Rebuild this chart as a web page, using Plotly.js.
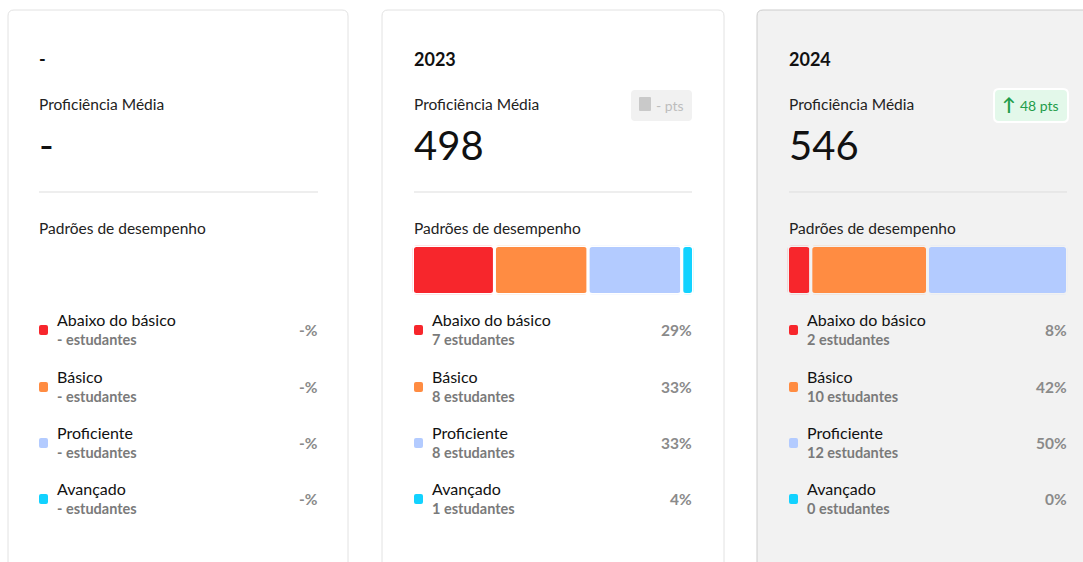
<!DOCTYPE html>
<html>
<head>
<meta charset="utf-8">
<script src="https://cdn.plot.ly/plotly-3.0.1.min.js"></script>
<style>
html,body{margin:0;padding:0;background:#fff;}
#chart{width:1083px;height:562px;}
</style>
</head>
<body>
<div id="chart"></div>
<script>
// ---- data ----
const years = ['-', '2023', '2024'];
const proficiency = ['-', '498', '546'];
const deltaLabels = [null, '- pts', '48 pts'];
const levels = ['Abaixo do básico', 'Básico', 'Proficiente', 'Avançado'];
const students2023 = [7, 8, 8, 1];
const students2024 = [2, 10, 12, 0];
const pct2023 = [29, 33, 33, 4];
const pct2024 = [8, 42, 50, 0];

// ---- styles ----
const levelColors = ['#f7262c', '#ff8c42', '#b3cbff', '#12d2ff'];
const W = 1083, H = 562;
const X = p => p / W;
const Y = p => 1 - p / H;
const FONT = 'Lato, "Open Sans", sans-serif';

const cards = [
  {x0: 8, x1: 348, fill: '#ffffff', line: '#e2e2e2', cx: 39, cr: 318},
  {x0: 382, x1: 724, fill: '#ffffff', line: '#e2e2e2', cx: 414, cr: 692},
  {x0: 757, x1: 1100, fill: '#f2f2f2', line: '#cccccc', cx: 789, cr: 1067}
];

function roundRect(x0, y0, x1, y1, r) {
  const rx = r / W, ry = r / H;
  const a = X(x0), b = X(x1), t = Y(y0), u = Y(y1);
  return `M${a + rx},${t} L${b - rx},${t} Q${b},${t} ${b},${t - ry} L${b},${u + ry} Q${b},${u} ${b - rx},${u} L${a + rx},${u} Q${a},${u} ${a},${u + ry} L${a},${t - ry} Q${a},${t} ${a + rx},${t} Z`;
}

const shapes = [];
const annotations = [];
// annotations carry a little inner padding; compensate so text edges land on x
function txt(text, x, y, size, color, opts) {
  const right = opts && opts.xanchor === 'right';
  annotations.push(Object.assign({
    text: text, x: X(right ? x + 1 : x - 1), y: Y(y), xref: 'paper', yref: 'paper',
    xanchor: 'left', yanchor: 'middle', showarrow: false, borderpad: 0,
    font: {family: FONT, size: size, color: color}
  }, opts || {}));
}

const studentsByCard = [null, students2023, students2024];
const pctByCard = [null, pct2023, pct2024];

cards.forEach((c, i) => {
  shapes.push({type: 'path', xref: 'paper', yref: 'paper', layer: 'below',
    path: roundRect(c.x0, 10, c.x1, 600, 6),
    fillcolor: c.fill, line: {color: c.line, width: 1}});
  // divider
  shapes.push({type: 'line', xref: 'paper', yref: 'paper', layer: 'below',
    x0: X(c.cx), x1: X(c.cr), y0: Y(192), y1: Y(192),
    line: {color: '#dddddd', width: 1}});
  txt('<b>' + years[i] + '</b>', c.cx, 59, 18, '#111');
  txt('Proficiência Média', c.cx, 104, 15.5, '#222');
  txt(proficiency[i], c.cx, 145, 40, '#111');
  txt('Padrões de desempenho', c.cx, 228, 15.5, '#222');
  const rowY = [319, 376, 432, 488];
  levels.forEach((lv, k) => {
    const ry = rowY[k];
    shapes.push({type: 'path', xref: 'paper', yref: 'paper', layer: 'below',
      path: roundRect(c.cx, ry + 6, c.cx + 9, ry + 16, 2),
      fillcolor: levelColors[k], line: {width: 0}});
    txt(lv, c.cx + 18, ry, 16, '#111');
    const s = studentsByCard[i] ? studentsByCard[i][k] : '-';
    const p = pctByCard[i] ? pctByCard[i][k] : '-';
    txt('<b>' + s + ' estudantes</b>', c.cx + 18, ry + 20, 14.5, '#7a7a7a');
    txt('<b>' + p + '%</b>', c.cr, ry + 11, 15.5, '#8a8a8a', {xanchor: 'right'});
  });
});

// badges
shapes.push({type: 'path', xref: 'paper', yref: 'paper', layer: 'below',
  path: roundRect(631, 90, 692, 121, 4), fillcolor: '#f1f1f1', line: {width: 0}});
shapes.push({type: 'path', xref: 'paper', yref: 'paper', layer: 'below',
  path: roundRect(639, 97, 651, 111, 1), fillcolor: '#c9c9c9', line: {width: 0}});
txt(deltaLabels[1], 656, 105, 14, '#bdbdbd');
shapes.push({type: 'path', xref: 'paper', yref: 'paper', layer: 'below',
  path: roundRect(994, 89, 1068, 122, 5), fillcolor: '#e3f8ea', line: {color: '#ffffff', width: 2}});
txt('<b>↑</b>', 1002, 104, 18, '#1f9d4a');
txt(deltaLabels[2], 1020, 106, 14, '#1f9d4a');

// ---- bars ----
const traces = [];
function addBars(counts, axisIdx, bg) {
  let base = 0;
  counts.forEach((v, k) => {
    traces.push({
      type: 'bar', orientation: 'h', y: [0], x: [v], base: [base], width: 1,
      xaxis: 'x' + axisIdx, yaxis: 'y' + axisIdx,
      marker: {color: levelColors[k], cornerradius: 4, line: {color: bg, width: 3}},
      hoverinfo: 'skip'
    });
    base += v;
  });
}
addBars(students2023, 2, '#ffffff');
addBars(students2024, 3, '#f2f2f2');

const sum = a => a.reduce((s, v) => s + v, 0);
function axes(x0, x1, total) {
  return [
    {domain: [X(x0 - 1.5), X(x1 + 1.5)], range: [0, total], visible: false, fixedrange: true},
    {domain: [Y(294.5), Y(245.5)], range: [-0.5, 0.5], visible: false, fixedrange: true}
  ];
}
const a2 = axes(414, 692, sum(students2023));
const a3 = axes(789, 1066, sum(students2024));

const layout = {
  width: W, height: H,
  margin: {l: 0, r: 0, t: 0, b: 0},
  paper_bgcolor: '#ffffff', plot_bgcolor: 'rgba(0,0,0,0)',
  showlegend: false, barmode: 'overlay',
  xaxis: {visible: false, domain: [0, 0.01]}, yaxis: {visible: false, domain: [0, 0.01]},
  xaxis2: Object.assign({anchor: 'y2'}, a2[0]), yaxis2: Object.assign({anchor: 'x2'}, a2[1]),
  xaxis3: Object.assign({anchor: 'y3'}, a3[0]), yaxis3: Object.assign({anchor: 'x3'}, a3[1]),
  shapes: shapes, annotations: annotations
};

Plotly.newPlot('chart', traces, layout, {displayModeBar: false, staticPlot: true});
</script>
</body>
</html>
